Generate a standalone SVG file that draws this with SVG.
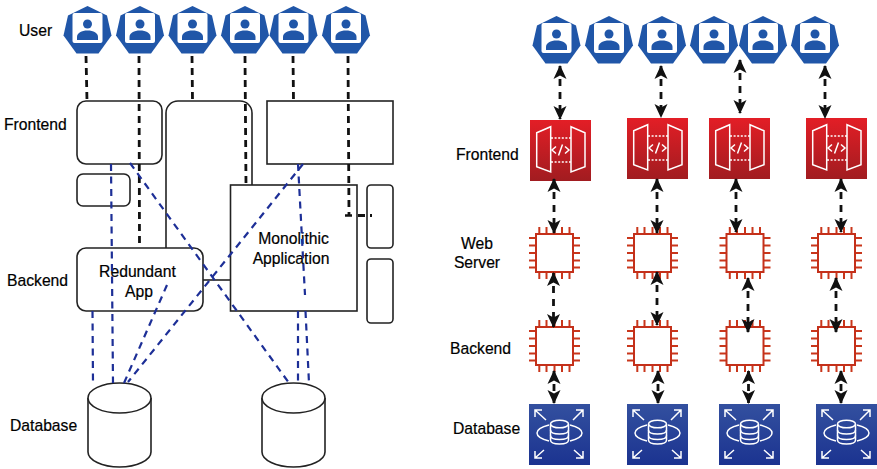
<svg xmlns="http://www.w3.org/2000/svg" width="877" height="469" viewBox="0 0 877 469">
<style>
text{font-family:"Liberation Sans",Arial,sans-serif;font-size:15.700px;fill:#000;stroke:#000;stroke-width:.2}
.m{text-anchor:middle}
.b{fill:#fff;stroke:#222;stroke-width:1.6}
.k{fill:none;stroke:#111;stroke-width:2.800;stroke-dasharray:7 5}
.u{fill:none;stroke:#1d2f97;stroke-width:2.200;stroke-dasharray:7 5.500}
.a{fill:none;stroke:#111;stroke-width:2.800;stroke-dasharray:7 6;marker-start:url(#h);marker-end:url(#h)}
.w{fill:none;stroke:#fff;stroke-width:1.5}
.wd{fill:none;stroke:#fff;stroke-width:1.6;stroke-dasharray:2 1.6}
.p{fill:none;stroke:#c9361b;stroke-width:2}
</style>
<defs>
<linearGradient id="rg" x1="0" y1="0" x2="0" y2="1"><stop offset="0" stop-color="#e31e26"/><stop offset="1" stop-color="#a11c20"/></linearGradient>
<linearGradient id="bg" x1="0" y1="0" x2="0" y2="1"><stop offset="0" stop-color="#33509f"/><stop offset="1" stop-color="#1b3390"/></linearGradient>
<marker id="h" markerUnits="userSpaceOnUse" viewBox="0 0 14 14" markerWidth="14" markerHeight="14" refX="13" refY="7" orient="auto-start-reverse"><path d="M14 7L0 0.5L3.500 7L0 13.500Z" fill="#111"/></marker>
<g id="user">
<path d="M0-24L19.500-14.500L24 5.500L11 23.500H-11L-24 5.500L-19.500-14.500Z" fill="#2056a8"/>
<rect x="-15" y="-17" width="30" height="30" rx="2" fill="#fff"/>
<circle cx="0" cy="-6" r="4.500" fill="#2056a8"/>
<path d="M-10.500 10V7C-10.500 3-6 0.500 0 0.500S10.500 3 10.500 7V10Z" fill="#2056a8"/>
</g>
<g id="api">
<rect width="61" height="61" fill="url(#rg)"/>
<path class="w" d="M6.700 12.700L20.700 6.700V52L6.700 46.700ZM41 6.700L55 12.700V46.700L41 52Z"/>
<path class="wd" d="M21 18H41M21 42H41"/>
<path class="w" d="M26 26.500L22 30L26 33.500M35 26.500L39 30L35 33.500M32.500 24.500L28.500 35.500"/>
</g>
<g id="chip">
<path class="p" d="M3.300 0V-7M10.500 0V-7M18.500 0V-7M26 0V-7M33.500 0V-7M3.300 38V45M10.500 38V45M18.500 38V45M26 38V45M33.500 38V45M0 4H-7M0 11.500H-7M0 19H-7M0 26.500H-7M0 33.500H-7M37 4H44M37 11.500H44M37 19H44M37 26.500H44M37 33.500H44"/>
<rect width="37" height="38" fill="#fff" stroke="#c4301a" stroke-width="2"/>
</g>
<g id="rds">
<rect width="61" height="61" fill="url(#bg)"/>
<g class="w">
<path d="M21.500 20V36C21.500 38.500 25.500 40 30.500 40S39.500 38.500 39.500 36V20"/>
<ellipse cx="30.500" cy="20" rx="9" ry="3.800"/>
<path d="M21.500 26C21.500 28.500 25.500 30 30.500 30S39.500 28.500 39.500 26M21.500 31.500C21.500 34 25.500 35.500 30.500 35.500S39.500 34 39.500 31.500"/>
<path d="M20 21C12 23 8 26 8 29S12 35 20 37M41 21C49 23 53 26 53 29S49 35 41 37"/>
<path d="M6 6L17 16M6 13V6H13M54 6L44 16M47 6H54V13M6 54L15 46M6 47V54H13M54 54L45 46M54 47V54H47"/>
</g>
</g>
</defs>
<rect width="877" height="469" fill="#fff"/>

<g id="node-frontend-1"><rect class="b" x="77" y="101" width="85" height="63" rx="9"/></g>
<g id="node-small-1"><rect class="b" x="77" y="174" width="53" height="32" rx="6"/></g>
<g id="node-shared"><path class="b" style="fill:none" d="M166 248V113A12 12 0 0 1 178 101H240A12 12 0 0 1 252 113V185"/></g>
<g id="node-frontend-2"><rect class="b" x="267" y="101" width="126" height="63"/></g>
<g id="node-mono"><rect class="b" x="230.500" y="185" width="126.500" height="126"/><text class="m" x="293.500" y="244">Monolithic</text><text class="m" x="291" y="264">Application</text></g>
<g id="node-small-2"><rect class="b" x="367" y="185" width="26" height="63" rx="4"/></g>
<g id="node-small-3"><rect class="b" x="367" y="259" width="26" height="64" rx="4"/></g>
<g id="node-redundant"><rect class="b" x="77" y="248" width="126" height="63" rx="9"/><text class="m" x="137.500" y="277">Redundant</text><text class="m" x="139" y="297">App</text></g>
<g id="node-db-1"><path class="b" d="M88 398V452C88 460 102 467 119.500 467S151 460 151 452V398"/><ellipse class="b" cx="119.500" cy="398" rx="31.500" ry="15"/></g>
<g id="node-db-2"><path class="b" d="M262 398V452C262 460 276 467 293.500 467S325 460 325 452V398"/><ellipse class="b" cx="293.500" cy="398" rx="31.500" ry="15"/></g>

<g id="node-user-l1"><use href="#user" x="87.500" y="30"/></g>
<g id="node-user-l2"><use href="#user" x="140" y="30"/></g>
<g id="node-user-l3"><use href="#user" x="192.500" y="30"/></g>
<g id="node-user-l4"><use href="#user" x="245" y="30"/></g>
<g id="node-user-l5"><use href="#user" x="293.500" y="30"/></g>
<g id="node-user-l6"><use href="#user" x="346" y="30"/></g>

<g id="node-user-r1"><use href="#user" x="556.500" y="40"/></g>
<g id="node-user-r2"><use href="#user" x="609" y="40"/></g>
<g id="node-user-r3"><use href="#user" x="662" y="40"/></g>
<g id="node-user-r4"><use href="#user" x="714" y="40"/></g>
<g id="node-user-r5"><use href="#user" x="763" y="40"/></g>
<g id="node-user-r6"><use href="#user" x="815" y="40"/></g>

<g id="node-api-1"><use href="#api" x="530" y="120"/></g>
<g id="node-api-2"><use href="#api" x="627" y="118"/></g>
<g id="node-api-3"><use href="#api" x="709" y="118"/></g>
<g id="node-api-4"><use href="#api" x="806" y="118"/></g>

<g id="node-web-1"><use href="#chip" x="536" y="234"/></g>
<g id="node-web-2"><use href="#chip" x="634" y="234"/></g>
<g id="node-web-3"><use href="#chip" x="726.500" y="234"/></g>
<g id="node-web-4"><use href="#chip" x="818" y="234"/></g>
<g id="node-back-1"><use href="#chip" x="536" y="327"/></g>
<g id="node-back-2"><use href="#chip" x="634" y="327"/></g>
<g id="node-back-3"><use href="#chip" x="726.500" y="327"/></g>
<g id="node-back-4"><use href="#chip" x="818" y="327"/></g>

<g id="node-rds-1"><use href="#rds" x="529" y="404"/></g>
<g id="node-rds-2"><use href="#rds" x="627" y="404"/></g>
<g id="node-rds-3"><use href="#rds" x="719" y="404"/></g>
<g id="node-rds-4"><use href="#rds" x="816" y="404"/></g>

<g id="connectors">
<path d="M203 280H230.500" fill="none" stroke="#222" stroke-width="1.600"/>
<path class="k" d="M86 56L87 101"/>
<path class="k" d="M139 56L139.500 248"/>
<path class="k" d="M192 56L192.500 101"/>
<path class="k" d="M245 56L246 185"/>
<path class="k" d="M293 56L293.500 101"/>
<path class="k" d="M348 56L349 215"/>
<path d="M345 215.500H352" stroke="#111" stroke-width="2.500" fill="none"/>
<path class="k" d="M358 215.500H372" stroke-dasharray="6 5"/>
<path class="u" d="M111 164L113 383"/>
<path class="u" d="M130 163L289 383"/>
<path class="u" d="M303 164L128 382"/>
<path class="u" d="M167 285L124 383"/>
<path class="u" d="M92.500 311L93 385"/>
<path class="u" d="M298 164L305 295"/>
<path class="u" d="M298 311V383"/>
<path class="u" d="M305.500 311L309 383"/>
<path class="a" d="M560 66V119"/>
<path class="a" d="M554 179V233"/>
<path class="a" d="M553.500 273V327"/>
<path class="a" d="M554 371V403"/>
<path class="a" d="M661 66V117"/>
<path class="a" d="M657 179V233"/>
<path class="a" d="M657 272V325"/>
<path class="a" d="M658 371V403"/>
<path class="a" d="M740 60V113"/>
<path class="a" d="M736 179V232"/>
<path class="a" d="M748 278V332"/>
<path class="a" d="M748.500 371V403"/>
<path class="a" d="M825 66V118"/>
<path class="a" d="M841 179V232"/>
<path class="a" d="M836 278V332"/>
<path class="a" d="M841 371V403"/>
</g>

<g id="labels">
<text x="19" y="36">User</text>
<text x="4" y="130">Frontend</text>
<text x="7" y="286">Backend</text>
<text x="10" y="431">Database</text>
<text x="456" y="160">Frontend</text>
<text class="m" x="477" y="249">Web</text>
<text class="m" x="477" y="268">Server</text>
<text x="450" y="354">Backend</text>
<text x="453" y="434">Database</text>
</g>
</svg>
